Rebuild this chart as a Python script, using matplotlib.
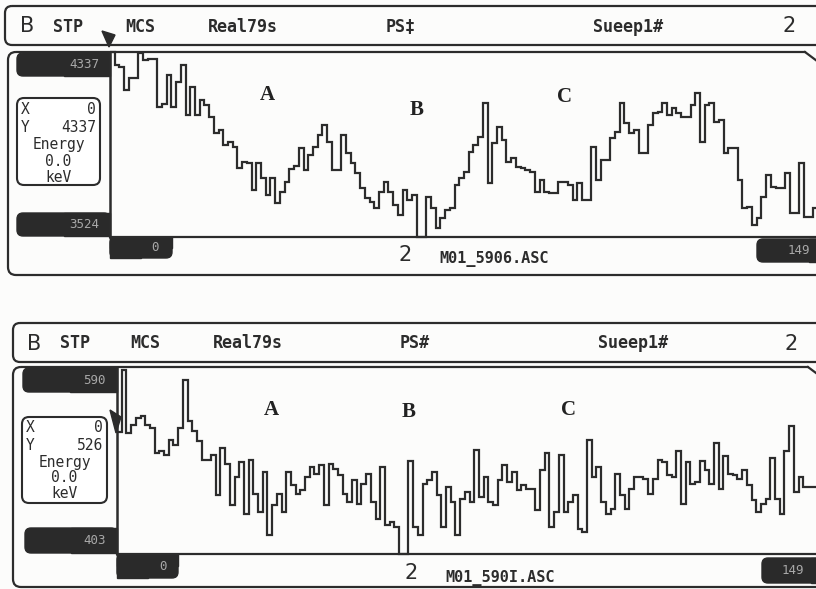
import numpy as np
import matplotlib
matplotlib.use("Agg")
import matplotlib.pyplot as plt
from matplotlib.patches import FancyBboxPatch, Rectangle, Polygon
from matplotlib.lines import Line2D

# ---------------- data (counts per MCS channel, 150 channels) ----------------
channel_edges = np.arange(151)

top_counts = [
    4337, 4280, 4273, 4170, 4221, 4221, 4331, 4302, 4306, 4306,
    4097, 4107, 4236, 4097, 4207, 4280, 4060, 4185, 4060, 4126,
    4104, 4053, 3980, 3994, 3928, 3943, 3921, 3826, 3855, 3848,
    3731, 3848, 3782, 3709, 3782, 3672, 3723, 3767,
    3823, 3838, 3914, 3819, 3885, 3921, 3972, 4016, 3943, 3819,
    3819, 3972, 3892, 3848, 3804, 3738, 3694, 3679, 3650, 3723,
    3767, 3723, 3665, 3621, 3731, 3687, 3709, 3524, 3524, 3701,
    3650, 3562, 3606, 3643, 3650, 3753, 3782, 3811,
    3899, 3928, 3965, 4112, 3760, 3936, 4009, 3950, 3855, 3870,
    3833, 3826, 3819, 3811, 3723, 3775, 3723, 3716, 3716, 3767,
    3767, 3753, 3687, 3760, 3687, 3687, 3921, 3775, 3863, 3863,
    3958, 3987, 4112, 4024, 3980, 3994, 3892, 3892,
    4016, 4068, 4075, 4112, 4060, 4090, 4068, 4053, 4053, 4104,
    4156, 3943, 4104, 4112, 4031, 4038, 3892, 3914, 3914, 3775,
    3650, 3657, 3577, 3606, 3701, 3797, 3745, 3738, 3738, 3804,
    3628, 3628, 3848, 3614, 3614, 3650,
]

bottom_counts = [
    526, 588, 525, 533, 540, 542, 533, 530, 505, 507,
    503, 518, 513, 530, 578, 537, 527, 517, 498, 498,
    503, 462, 510, 493, 452, 480, 495, 443, 498, 463,
    445, 485, 422, 452, 463, 445, 485, 472,
    463, 467, 480, 490, 483, 492, 452, 493, 488, 482,
    463, 455, 477, 453, 473, 483, 455, 438, 490, 432,
    435, 430, 403, 403, 497, 430, 422, 473, 477, 485,
    462, 430, 470, 455, 422, 458, 465, 455,
    508, 460, 480, 455, 452, 477, 492, 475, 485, 467,
    472, 468, 468, 447, 487, 505, 430, 445, 503, 445,
    455, 462, 428, 425, 518, 480, 490, 455, 443, 448,
    483, 462, 448, 468, 480, 480, 478, 463,
    478, 498, 495, 482, 480, 507, 453, 495, 473, 475,
    497, 487, 473, 515, 468, 502, 483, 482, 478, 487,
    472, 457, 445, 453, 458, 500, 458, 443, 507, 532,
    465, 480, 470, 470, 470, 470,
]

top_range = (3524, 4337)
bottom_range = (403, 590)
top_cursor = ("0", "4337")
bottom_cursor = ("0", "526")
channel_labels = ("0", "149")
top_file = "M01_5906.ASC"
bottom_file = "M01_590I.ASC"
region_labels = ["A", "B", "C"]
header_top = ["B", "STP", "MCS", "Real79s", "PS\u2021", "Sueep1#", "2"]
header_bottom = ["B", "STP", "MCS", "Real79s", "PS#", "Sueep1#", "2"]

# ---------------- figure ----------------
W, H = 816, 589
LINE = "#2c2c2c"
DARK = "#2a2a2a"
BOXTXT = "#a8a8a8"
MONO = "DejaVu Sans Mono"

fig = plt.figure(figsize=(W / 100, H / 100), dpi=100)
fig.patch.set_facecolor("#fcfcfb")
deco = fig.add_axes([0, 0, 1, 1])
deco.set_xlim(0, W)
deco.set_ylim(H, 0)
deco.axis("off")


def fig_rect(x0, y0, x1, y1):
    return [x0 / W, 1 - y1 / H, (x1 - x0) / W, (y1 - y0) / H]


def rbox(x0, y0, x1, y1, r=6, fc="none", ec=LINE, lw=1.5, z=1):
    deco.add_patch(FancyBboxPatch((x0, y0), x1 - x0, y1 - y0,
                                  boxstyle=f"round,pad=0,rounding_size={r}",
                                  fc=fc, ec=ec, lw=lw, zorder=z))


def dark_box(x0, y0, x1, y1, square="right", r=6):
    rbox(x0, y0, x1, y1, r=r, fc=DARK, ec=DARK, lw=1, z=3)
    if square == "right":
        deco.add_patch(Rectangle(((x0 + x1) / 2, y0), (x1 - x0) / 2, y1 - y0, fc=DARK, ec=DARK, lw=1, zorder=3))
    elif square == "topleft":
        deco.add_patch(Rectangle((x0, y0), x1 - x0, (y1 - y0) / 2, fc=DARK, ec=DARK, lw=1, zorder=3))
        deco.add_patch(Rectangle((x0, y0), (x1 - x0) / 2, y1 - y0, fc=DARK, ec=DARK, lw=1, zorder=3))


def panel(P, counts, yrange, cursor, fname, header):
    # header strip
    rbox(P["hx0"], P["hy0"], 860, P["hy1"], r=7, lw=1.6)
    hy = (P["hy0"] + P["hy1"]) / 2 + 1
    hx = P["hx"]
    deco.text(hx[0], hy, header[0], fontsize=15, family="DejaVu Sans", color=LINE, va="center", ha="left")
    for x, s in zip(hx[1:6], header[1:6]):
        deco.text(x, hy, s, fontsize=12, family=MONO, color=LINE, va="center", ha="left", weight="bold")
    deco.text(hx[6], hy, header[6], fontsize=15, family="DejaVu Sans", color=LINE, va="center", ha="left")

    # body frame with chamfered top-right corner
    rbox(P["bx0"], P["by0"], 860, P["by1"], r=8, lw=1.6, z=1)
    cx, cy = P["cham"]
    deco.add_patch(Polygon([(cx, P["by0"] - 2), (W + 5, P["by0"] - 2), (W + 5, cy + 14)],
                           closed=True, fc=fig.get_facecolor(), ec="none", zorder=2))
    deco.add_line(Line2D([cx, W + 2], [P["by0"], P["by0"] + (W + 2 - cx) * 0.75], color=LINE, lw=1.6, zorder=2))

    # left value boxes
    x0, y0, x1, y1 = P["topbox"]
    dark_box(x0, y0, x1, y1)
    deco.text(x1 - 11, (y0 + y1) / 2, str(yrange[1]), fontsize=9, family=MONO, color=BOXTXT, ha="right", va="center", zorder=4)
    x0, y0, x1, y1 = P["botbox"]
    dark_box(x0, y0, x1, y1)
    deco.text(x1 - 11, (y0 + y1) / 2, str(yrange[0]), fontsize=9, family=MONO, color=BOXTXT, ha="right", va="center", zorder=4)

    # channel boxes
    x0, y0, x1, y1 = P["zerobox"]
    dark_box(x0, y0, x1, y1, square="topleft")
    deco.text(P["zero_tx"], (y0 + y1) / 2, channel_labels[0], fontsize=9, family=MONO, color=BOXTXT, ha="center", va="center", zorder=4)
    x0, y0, x1, y1 = P["endbox"]
    dark_box(x0, y0, x1, y1)
    deco.text(P["end_tx"], (y0 + y1) / 2, channel_labels[1], fontsize=9, family=MONO, color=BOXTXT, ha="left", va="center", zorder=4)

    # info box
    x0, y0, x1, y1 = P["info"]
    rbox(x0, y0, x1, y1, r=7, fc="white", lw=1.5, z=3)
    rows = P["info_rows"]
    xl, xr = x0 + 4, x1 - 4
    xc = (x0 + x1) / 2
    kw = dict(fontsize=10.5, family=MONO, color=LINE, va="center", zorder=4)
    deco.text(xl, rows[0], "X", ha="left", **kw)
    deco.text(xr, rows[0], cursor[0], ha="right", **kw)
    deco.text(xl, rows[1], "Y", ha="left", **kw)
    deco.text(xr, rows[1], cursor[1], ha="right", **kw)
    deco.text(xc, rows[2], "Energy", ha="center", **kw)
    deco.text(xc, rows[3], "0.0", ha="center", **kw)
    deco.text(xc, rows[4], "keV", ha="center", **kw)

    # bottom texts
    tx, ty = P["num2"]
    deco.text(tx, ty, "2", fontsize=15, family="DejaVu Sans", color=LINE, ha="left", va="center")
    tx, ty = P["file"]
    deco.text(tx, ty, fname, fontsize=11, family=MONO, color=LINE, ha="left", va="center", weight="bold")

    # cursor marker
    deco.add_patch(Polygon(P["arrow"], closed=True, fc=LINE, ec=LINE, zorder=5))

    # spectrum
    ax = fig.add_axes(fig_rect(*P["plot"]))
    ax.set_facecolor("none")
    ax.stairs(counts, channel_edges, baseline=None, color=LINE, lw=1.6, clip_on=False)
    ax.set_xlim(0, 150)
    ax.set_ylim(*yrange)
    ax.set_xticks([])
    ax.set_yticks([])
    for s in ("top", "right"):
        ax.spines[s].set_visible(False)
    ax.spines["left"].set_linewidth(1.8)
    ax.spines["bottom"].set_linewidth(1.6)
    ax.spines["left"].set_color(LINE)
    ax.spines["bottom"].set_color(LINE)

    for (lx, ly), s in zip(P["labels"], region_labels):
        deco.text(lx, ly, s, fontsize=15, family="Liberation Serif", weight="bold",
                  color="#222222", ha="center", va="center", zorder=6)


P_top = dict(
    hx0=5, hy0=6, hy1=45,
    hx=[20, 53, 125, 208, 386, 593, 782],
    bx0=8, by0=52, by1=275, cham=(805, 60),
    plot=(110, 52, 818, 237),
    topbox=(17, 53, 110, 76), botbox=(17, 213, 110, 236),
    zerobox=(110, 237, 172, 258), zero_tx=155,
    endbox=(757, 239, 860, 262), end_tx=788,
    info=(17, 98, 100, 185), info_rows=[110, 127, 144, 161, 177],
    num2=(399, 255), file=(439, 259),
    arrow=[(102, 31), (115, 35), (109, 47)],
    labels=[(267, 95), (417, 110), (564, 97)],
)

P_bot = dict(
    hx0=13, hy0=323, hy1=362,
    hx=[27, 60, 130, 213, 400, 598, 785],
    bx0=13, by0=367, by1=587, cham=(808, 375),
    plot=(117, 368, 822, 554),
    topbox=(23, 368, 117, 392), botbox=(25, 528, 117, 553),
    zerobox=(117, 554, 178, 578), zero_tx=163,
    endbox=(762, 558, 860, 583), end_tx=782,
    info=(22, 417, 107, 503), info_rows=[428, 445, 462, 478, 494],
    num2=(405, 573), file=(445, 578),
    arrow=[(110, 410), (121, 417), (116, 433)],
    labels=[(271, 410), (409, 412), (569, 410)],
)

panel(P_top, top_counts, top_range, top_cursor, top_file, header_top)
panel(P_bot, bottom_counts, bottom_range, bottom_cursor, bottom_file, header_bottom)

fig.savefig("out.png", dpi=100, facecolor=fig.get_facecolor())
